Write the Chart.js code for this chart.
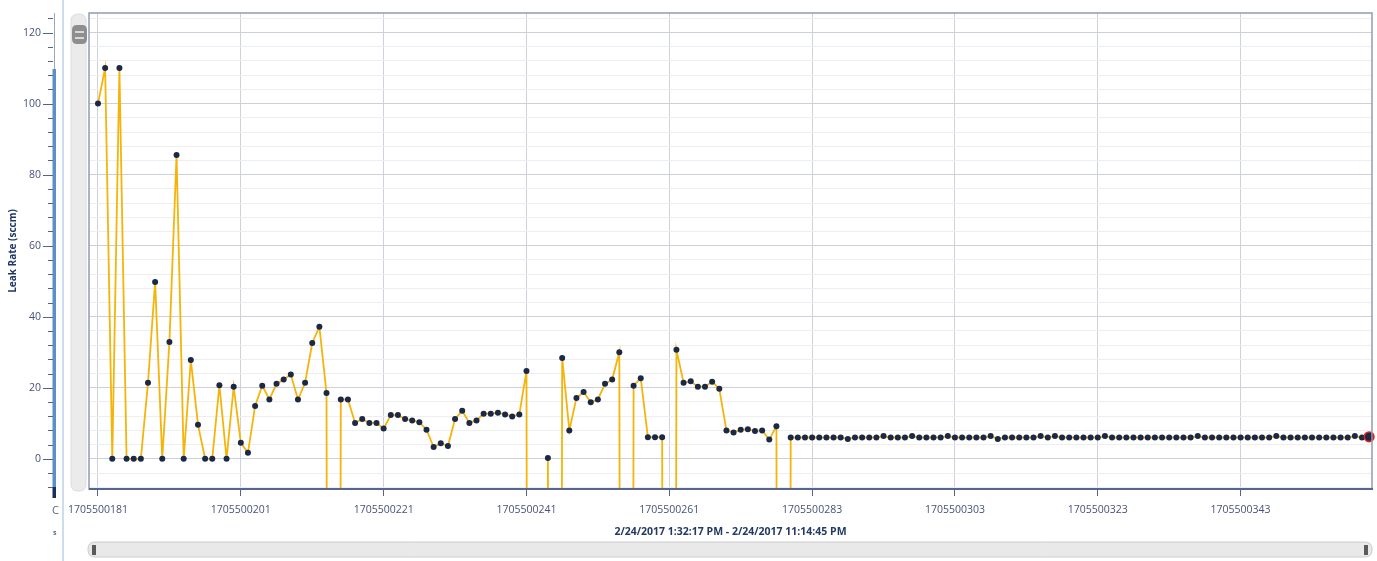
<!DOCTYPE html>
<html><head><meta charset="utf-8">
<script src="https://cdn.jsdelivr.net/npm/chart.js@4.4.0/dist/chart.umd.min.js"></script>
<style>html,body{margin:0;padding:0;background:#fff;overflow:hidden}#wrap{width:1377px;height:561px;position:relative}</style>
</head><body><div id="wrap"><canvas id="c" width="1377" height="561"></canvas></div>
<script>
// ---- data ----
// x tick labels (sample IDs shown every 20 samples)
const xTickLabels = ['1705500181','1705500201','1705500221','1705500241','1705500261','1705500283','1705500303','1705500323','1705500343'];
const xTickEvery = 20;
// y axis: labelled every 20, minor ticks every 4
const yMajorStep = 20;
const yMinorStep = 4;
// leak rate per sample (sccm); -1000 = off-scale reading (drops below the axis)
const leakRate = [
  100,110,0,110,0,0,0,21.4,49.8,0,
  32.9,85.5,0,27.8,9.6,0,0,20.7,0,20.3,
  4.5,1.7,14.9,20.6,16.7,21.1,22.3,23.7,16.7,21.4,
  32.6,37.2,18.5,-1000,16.7,16.7,10.1,11.2,10.1,10.1,
  8.5,12.3,12.3,11.2,10.8,10.3,8.2,3.3,4.4,3.6,
  11.2,13.5,10.1,10.8,12.7,12.7,13.0,12.5,11.9,12.5,
  24.7,-1000,-1000,0.2,-1000,28.4,8.0,17.1,18.8,15.9,
  16.7,21.1,22.3,30.0,-1000,20.6,22.7,6.1,6.1,6.1,
  -1000,30.7,21.4,21.8,20.3,20.3,21.7,19.7,8.0,7.4,
  8.2,8.3,7.8,8.0,5.4,9.2,-1000,6,6,6,
  6,6,6,6,6,5.6,6,6,6,6,
  6.4,6,6,6,6.4,6,6,6,6,6.4,
  6,6,6,6,6,6.4,5.6,6,6,6,
  6,6,6.4,6,6.4,6,6,6,6,6,
  6,6.4,6,6,6,6,6,6,6,6,
  6,6,6,6,6.4,6,6,6,6,6,
  6,6,6,6,6,6.4,6,6,6,6,
  6,6,6,6,6,6,6.4,6,6.2
];
const yTitle = 'Leak Rate (sccm)';
const xTitle = '2/24/2017 1:32:17 PM - 2/24/2017 11:14:45 PM';

const points = leakRate.map((v, i) => ({x: i, y: v}));
const lastIdx = leakRate.length - 1;

function rr(c, x, y, w, h, r) {
  c.beginPath();
  c.moveTo(x + r, y); c.lineTo(x + w - r, y); c.quadraticCurveTo(x + w, y, x + w, y + r);
  c.lineTo(x + w, y + h - r); c.quadraticCurveTo(x + w, y + h, x + w - r, y + h);
  c.lineTo(x + r, y + h); c.quadraticCurveTo(x, y + h, x, y + h - r);
  c.lineTo(x, y + r); c.quadraticCurveTo(x, y, x + r, y); c.closePath();
}

const chrome = {
  id: 'chrome',
  beforeDraw(chart) {
    const c = chart.ctx;
    c.save();
    c.fillStyle = '#ffffff'; c.fillRect(0, 0, chart.width, chart.height);
    c.fillStyle = '#cfdcee'; c.fillRect(62, 0, 2, chart.height);
    rr(c, 71, 14, 15, 477, 7); c.fillStyle = '#ebebeb'; c.fill();
    c.strokeStyle = '#dddddd'; c.lineWidth = 1; c.stroke();
    rr(c, 72, 25, 15, 19, 5); c.fillStyle = '#8e8e8e'; c.fill();
    c.fillStyle = '#d8d8d8'; c.fillRect(75, 31, 9, 2); c.fillRect(75, 37, 9, 2);
    rr(c, 88, 542, 1284, 15, 7); c.fillStyle = '#e9e9e9'; c.fill();
    c.strokeStyle = '#cccccc'; c.stroke();
    c.fillStyle = '#5a5a5a'; c.fillRect(92, 545, 4, 10); c.fillRect(1364, 545, 4, 10);
    c.restore();
  },
  afterDraw(chart) {
    const c = chart.ctx, a = chart.chartArea, ys = chart.scales.y;
    c.save();
    c.strokeStyle = '#909cb5'; c.lineWidth = 1.5;
    c.strokeRect(a.left, a.top, a.right - a.left, a.bottom - a.top);
    c.strokeStyle = '#56668c'; c.lineWidth = 2;
    c.beginPath(); c.moveTo(a.left, a.bottom); c.lineTo(a.right + 1, a.bottom); c.stroke();
    c.strokeStyle = '#9aa6bd'; c.lineWidth = 1;
    c.beginPath(); c.moveTo(54.5, 13); c.lineTo(54.5, 69); c.stroke();
    c.fillStyle = '#5d8fca'; c.fillRect(52.5, 69, 3.5, 419);
    c.fillStyle = '#1d2f57'; c.fillRect(52.5, 487, 3.5, 11);
    c.strokeStyle = '#55658a'; c.lineWidth = 1;
    ys.ticks.forEach(t => {
      const y = Math.round(ys.getPixelForValue(t.value)) + 0.5;
      const major = t.value % yMajorStep === 0;
      c.beginPath(); c.moveTo(major ? 43 : 48, y); c.lineTo(53, y); c.stroke();
    });
    c.fillStyle = '#5a6686'; c.textAlign = 'left'; c.textBaseline = 'middle';
    c.font = '11px "Open Sans"'; c.fillText('C', 52, 511);
    c.font = 'bold 7px "Open Sans"'; c.fillText('s', 53, 533);
    c.restore();
  }
};

new Chart(document.getElementById('c'), {
  type: 'line',
  data: {
    datasets: [{
      data: points,
      borderColor: '#f5b40a',
      borderWidth: 1.8,
      tension: 0,
      pointRadius: ctx => ctx.dataIndex === lastIdx ? 4.8 : 3,
      pointBackgroundColor: '#1b2947',
      pointBorderColor: ctx => ctx.dataIndex === lastIdx ? '#e3231c' : '#1b2947',
      pointBorderWidth: ctx => ctx.dataIndex === lastIdx ? 1.6 : 0,
      clip: {left: 5, top: 5, right: 6, bottom: 0}
    }]
  },
  options: {
    responsive: false,
    animation: false,
    devicePixelRatio: 1,
    layout: {padding: {top: 13, right: 5, left: 0, bottom: 0}, autoPadding: false},
    plugins: {legend: {display: false}, tooltip: {enabled: false}},
    scales: {
      x: {
        type: 'linear',
        min: -1.26, max: 178.4,
        afterBuildTicks: s => { s.ticks = xTickLabels.map((_, k) => ({value: k * xTickEvery})); },
        afterFit: s => { s.height = 72; s.paddingLeft = 0; s.paddingRight = 0; },
        border: {display: false},
        grid: {color: '#cdd1d9', lineWidth: 1, drawTicks: true, tickLength: 7, tickColor: '#56668c'},
        ticks: {
          autoSkip: false, maxRotation: 0, minRotation: 0, padding: 8,
          color: '#46527a', font: {family: '"Open Sans"', size: 10.5},
          callback: v => {
            const k = Math.round(v / xTickEvery);
            return xTickLabels[k] !== undefined ? xTickLabels[k] : '';
          }
        },
        title: {display: true, text: xTitle, color: '#233a66', font: {family: '"Open Sans"', size: 10.5, weight: 'bold'}, padding: {top: 0, bottom: 23}}
      },
      y: {
        min: -8.5, max: 125.5,
        afterBuildTicks: s => {
          const t = [];
          for (let v = -8; v <= 124; v += yMinorStep) t.push({value: v});
          s.ticks = t;
        },
        afterFit: s => { s.width = 89; s.paddingTop = 0; s.paddingBottom = 0; },
        border: {display: false},
        grid: {
          drawTicks: false, lineWidth: 1,
          color: ctx => (ctx.tick && ctx.tick.value % yMajorStep === 0) ? '#cdd0d7' : '#eceef2'
        },
        ticks: {
          autoSkip: false, padding: 48,
          color: '#46527a', font: {family: '"Open Sans"', size: 10.5},
          callback: v => (v % yMajorStep === 0 ? String(v) : '')
        },
        title: {display: true, text: yTitle, color: '#1f3764', font: {family: '"Open Sans"', size: 10, weight: 'bold'}, padding: {top: 7, bottom: 0}}
      }
    }
  },
  plugins: [chrome]
});
</script>
</body></html>
